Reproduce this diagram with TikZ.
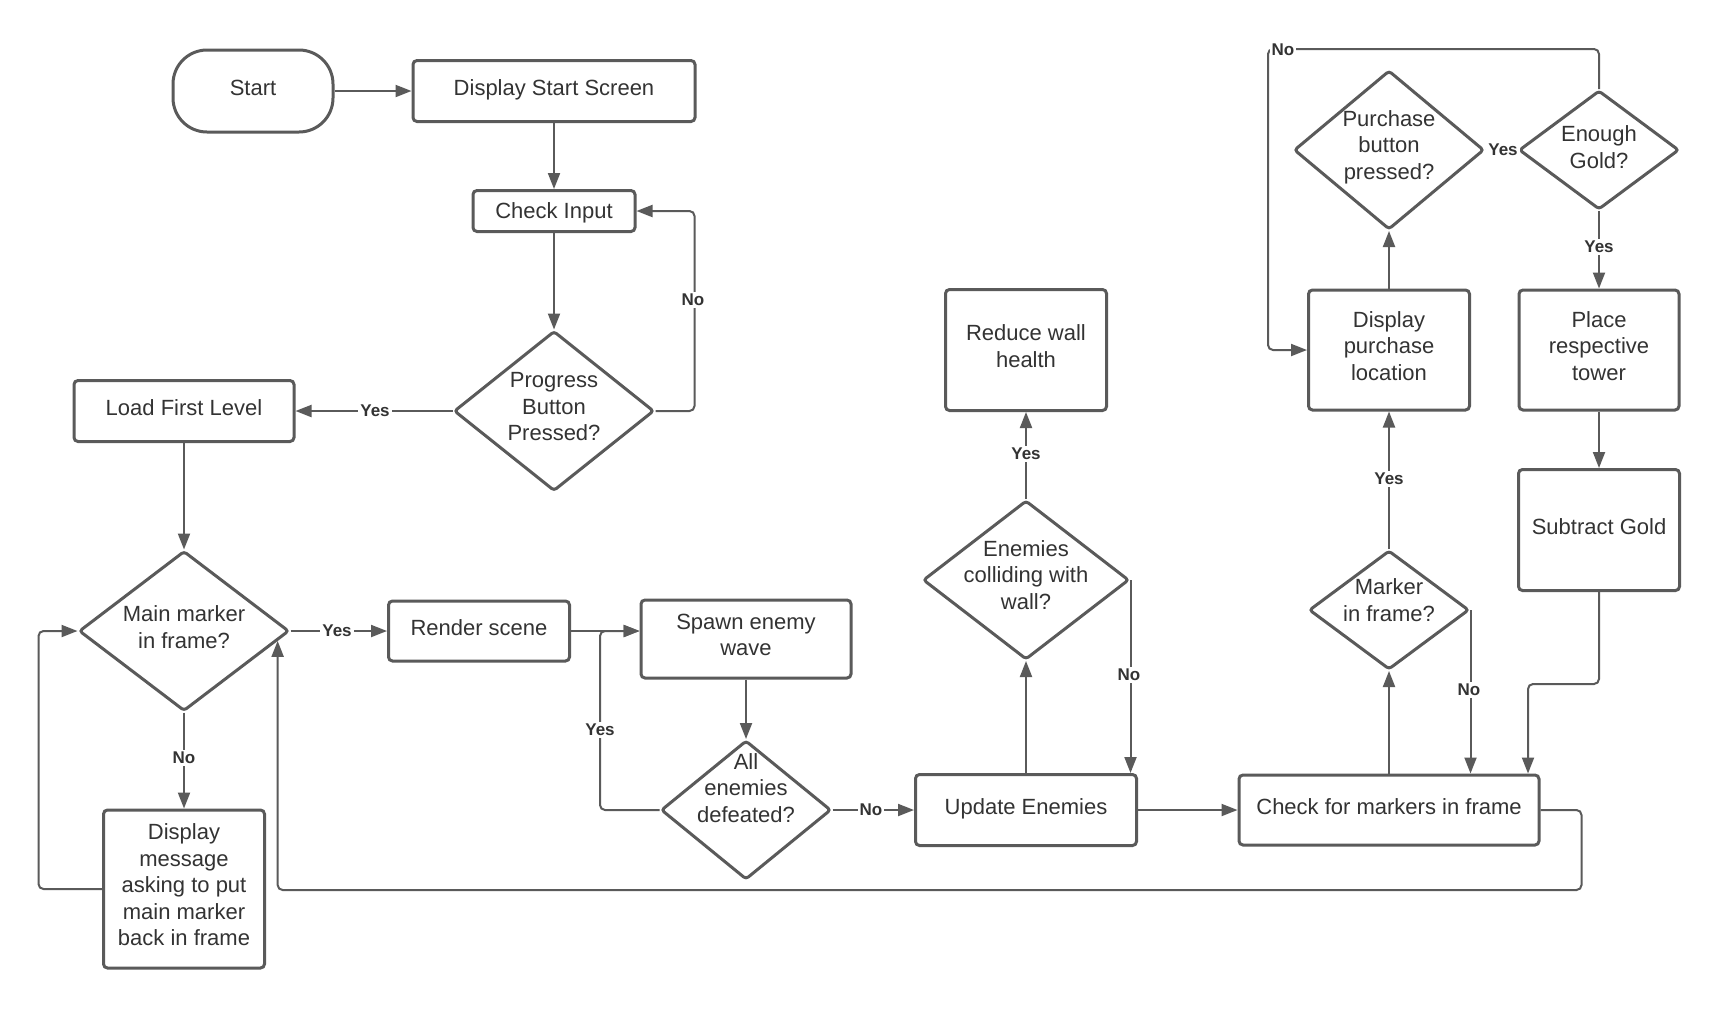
\documentclass[tikz,border=0pt]{standalone}
\usepackage{fontspec}
\setmainfont{Liberation Sans}
\usetikzlibrary{shapes.geometric,arrows.meta,calc}
\definecolor{lc}{RGB}{90,90,90}
\definecolor{tc}{RGB}{51,51,51}
\newcommand{\fsz}{\fontsize{11}{13.25}\selectfont}
\newcommand{\lfz}{\fontsize{8.5}{10}\selectfont\bfseries}
\newcommand{\srA}{\rule[-4.18pt]{0pt}{13.25pt}}
\newcommand{\srB}{\rule[-1.69pt]{0pt}{13.25pt}}
\begin{document}
\begin{tikzpicture}[x=0.5pt,y=-0.5pt,
  sz/.style 2 args={minimum width=#1*0.5pt,minimum height=#2*0.5pt},
  box/.style={draw=lc,line width=1.5pt,rounded corners=2pt,fill=white,align=center,text=tc,font=\fsz,inner sep=0pt,
    execute at begin node=\srA,execute at end node=\srA},
  lowbox/.style={box,execute at begin node=\srB,execute at end node=\srB},
  dia/.style={draw=lc,line width=1.5pt,diamond,rounded corners=1.5pt,inner sep=0pt,fill=white},
  dtxt/.style={align=center,text=tc,font=\fsz,inner sep=0pt},
  conn/.style={draw=lc,line width=1pt,-{Triangle[length=8pt,width=6pt]},rounded corners=2.5pt},
  plain/.style={draw=lc,line width=1pt,rounded corners=2.5pt},
  lbl/.style={fill=white,font=\lfz,text=tc,inner sep=1pt}]
\useasboundingbox[fill=white] (0,0) rectangle (1719,1008);
% boxes
\node[box,sz={160}{82},rounded corners=17pt] (st) at (253,91) {Start};
\node[box,sz={282}{61}] (dss) at (554,91) {Display Start Screen};
\node[lowbox,sz={162}{41}] (ci) at (554,211) {Check Input};
\node[dia,sz={200}{160}] (pb) at (554,411) {};
\node[dtxt] at (554,407) {Progress\\Button\\Pressed?};
\node[box,sz={220}{61}] (lfl) at (184,411) {Load First Level};
\node[dia,sz={210}{160}] (mm) at (184,631) {};
\node[dtxt] at (184,627) {Main marker\\in frame?};
\node[box,sz={161}{158}] (dm) at (184,889) {Display\\message\\asking to put\\main marker\\back in frame};
\node[box,sz={181}{60}] (rs) at (479,631) {Render scene};
\node[box,sz={210}{78}] (sw) at (746,639) {Spawn enemy\\wave};
\node[dia,sz={170}{139}] (ae) at (746,810) {};
\node[dtxt] at (746,788) {All\\enemies\\defeated?};
\node[box,sz={221}{71}] (ue) at (1026,810) {Update Enemies};
\node[dia,sz={206}{159}] (ec) at (1026,580) {};
\node[dtxt] at (1026,575) {Enemies\\colliding with\\wall?};
\node[box,sz={161}{121}] (rw) at (1026,350) {Reduce wall\\health};
\node[box,sz={300}{70}] (cm) at (1389,810) {Check for markers in frame};
\node[dia,sz={160}{119}] (mf) at (1389,610) {};
\node[dtxt] at (1389,600) {Marker\\in frame?};
\node[box,sz={161}{120}] (dp) at (1389,350) {Display\\purchase\\location};
\node[dia,sz={190}{159}] (pp) at (1389,150) {};
\node[dtxt] at (1389,147) {Purchase\\button\\pressed?};
\node[dia,sz={160}{119}] (eg) at (1599,150) {};
\node[dtxt] at (1599,147) {Enough\\Gold?};
\node[box,sz={160}{120}] (pt) at (1599,350) {Place\\respective\\tower};
\node[box,sz={161}{121}] (sg) at (1599,530) {Subtract Gold};
% connectors
\draw[conn] (st.east) -- (dss.west);
\draw[conn] (dss.south) -- (ci.north);
\draw[conn] (ci.south) -- (pb.north);
\draw[conn] (pb.east) -- ++(39,0) |- (ci.east);
\draw[conn] (pb.west) -- (lfl.east);
\draw[conn] (lfl.south) -- (mm.north);
\draw[conn] (mm.east) -- (rs.west);
\draw[conn] (rs.east) -- (rs.east -| sw.west);
\coordinate (j1) at (600,631);
\draw[conn] (ae.west) -| (j1) -- (j1 -| sw.west);
\draw[conn] (sw.south) -- (ae.north);
\draw[conn] (ae.east) -- (ue.west);
\draw[conn] (ue.north) -- (ec.south);
\draw[conn] (ec.north) -- (rw.south);
\draw[conn] (ec.east) -- (ec.east |- ue.north);
\draw[conn] (ue.east) -- (cm.west);
\draw[conn] (cm.north) -- (mf.south);
\draw[conn] (mf.east) -- (mf.east |- cm.north);
\draw[conn] (mf.north) -- (dp.south);
\draw[conn] (dp.north) -- (pp.south);
\draw[plain] (pp.east) -- (eg.west);
\draw[conn] (eg.north) -- ++(0,-40) -- ++(-331,0) |- (dp.west);
\draw[conn] (eg.south) -- (pt.north);
\draw[conn] (pt.south) -- (sg.north);
\draw[conn] (sg.south) -- ++(0,92) -| ($(cm.north)+(139,0)$);
\draw[conn] (cm.east) -- ++(41,0) -- ++(0,80) -| (mm.-6.3);
\draw[conn] (mm.south) -- (dm.north);
\draw[conn] (dm.west) -- ++(-63.5,0) |- (mm.west);
% labels
\node[lbl] at (693,300) {No};
\node[lbl] at (375,411) {Yes};
\node[lbl] at (337,631) {Yes};
\node[lbl] at (600,730) {Yes};
\node[lbl] at (871,810) {No};
\node[lbl] at (1026,454) {Yes};
\node[lbl] at (1129,675) {No};
\node[lbl] at (1389,479) {Yes};
\node[lbl] at (1469,690) {No};
\node[lbl] at (1503,150) {Yes};
\node[lbl] at (1283,50) {No};
\node[lbl] at (1599,247) {Yes};
\node[lbl] at (184,758) {No};
\end{tikzpicture}
\end{document}
